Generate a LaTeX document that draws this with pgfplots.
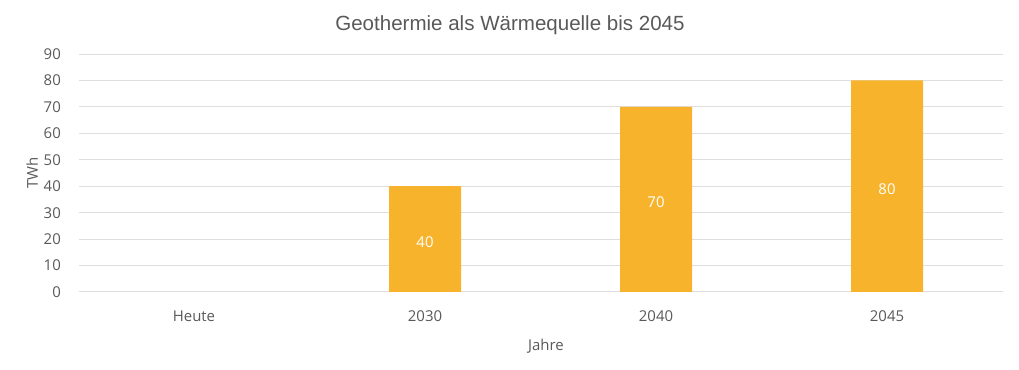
\documentclass[border=0pt]{standalone}
\usepackage{pgfplots}
\pgfplotsset{compat=1.18}
\usepackage{fontspec}
\setmainfont{Open Sans}
\newfontfamily\titlefont{Liberation Sans}
\definecolor{bar}{HTML}{F7B32B}
\definecolor{txt}{HTML}{595959}
\definecolor{grd}{HTML}{DEDEDE}
\begin{document}
\begin{tikzpicture}[x=1pt,y=1pt]
\begin{axis}[
  at={(0,0)}, anchor=south west,
  scale only axis, width=693pt, height=178.5pt,
  xmin=-0.5, xmax=3.5, ymin=0, ymax=90,
  ytick={0,10,...,90},
  xtick={0,1,2,3},
  xticklabels={Heute,2030,2040,2045},
  axis line style={draw=none},
  major tick length=0pt,
  ymajorgrids, major grid style={grd, line width=0.75pt},
  /pgf/number format/assume math mode=true,
  tick label style={font=\fontsize{11.2}{13}\selectfont, text=txt},
  yticklabel style={xshift=-9.75pt},
  xticklabel style={yshift=-10.5pt},
  clip=false,
]
\addplot[ybar, bar width=54pt, fill=bar, draw=none,
  visualization depends on={rawy \as \rawy},
  nodes near coords,
  every node near coord/.style={anchor=center, text=white, font=\fontsize{11.2}{13}\selectfont,
    shift={(axis direction cs:0,-\rawy/2)}, yshift=-2pt},
  /pgf/number format/assume math mode=true,
] coordinates {(1,40) (2,70) (3,80)};
\end{axis}
\path[use as bounding box] (-58.875,-58.5) rectangle (705.375,219);
\node[font=\titlefont\fontsize{15.4}{18}\selectfont, text=txt] at (323.6,200.25) {Geothermie als Wärmequelle bis 2045};
\node[font=\fontsize{11.2}{13}\selectfont, text=txt] at (350.6,-40.5) {Jahre};
\node[font=\fontsize{11.2}{13}\selectfont, text=txt, rotate=90] at (-34.8,89.25) {TWh};
\end{tikzpicture}
\end{document}
